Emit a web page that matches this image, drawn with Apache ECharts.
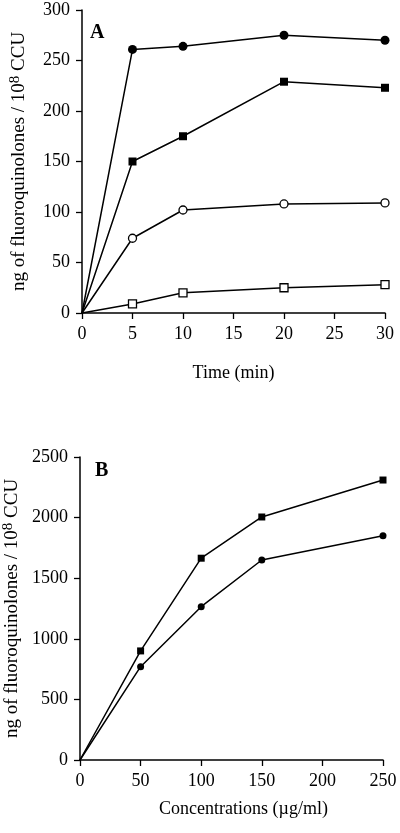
<!DOCTYPE html>
<html><head><meta charset="utf-8">
<script src="https://cdn.jsdelivr.net/npm/echarts@6/dist/echarts.min.js"></script>
<style>html,body{margin:0;padding:0;background:#fff}#c{width:400px;height:833px}</style>
</head><body><div id="c"></div>
<script>
// Panel A: time (min)
const timeA = [0, 5, 10, 20, 30];
const filledCircleA = [0, 261, 264, 275, 270];
const filledSquareA = [0, 150, 175, 229, 223];
const openCircleA = [0, 74, 102, 108, 109];
const openSquareA = [0, 9, 20, 25, 28];
// Panel B: concentration (µg/ml)
const concB = [0, 50, 100, 150, 250];
const squareB = [0, 900, 1665, 2005, 2310];
const circleB = [0, 770, 1265, 1650, 1850];

const FONT = 'Liberation Serif';
function pts(xs, ys) {
  return xs.map((x, i) => i === 0 ? { value: [x, ys[i]], symbol: 'none' } : [x, ys[i]]);
}
function series(xs, ys, idx, symbol, filled, size) {
  return {
    type: 'line', xAxisIndex: idx, yAxisIndex: idx, data: pts(xs, ys),
    symbol: symbol, symbolSize: size, showAllSymbol: true,
    lineStyle: { color: '#000', width: 1.5 },
    itemStyle: { color: filled ? '#000' : '#fff', borderColor: '#000', borderWidth: filled ? 0 : 1.3 },
    animation: false, z: 3
  };
}
const axisCommon = {
  axisLine: { show: true, onZero: false, lineStyle: { color: '#000', width: 1.5 } },
  axisTick: { show: true, inside: false, length: 6, lineStyle: { color: '#000', width: 1.3 } },
  splitLine: { show: false },
  axisLabel: { color: '#000', fontFamily: FONT, fontSize: 18, margin: 12, formatter: v => String(v) },
  nameTextStyle: { color: '#000', fontFamily: FONT, fontSize: 18 }
};
const yName = '{a|ng of fluoroquinolones / 10}{s|8}{a| CCU}';
const yRich = {
  a: { fontFamily: FONT, fontSize: 19, color: '#000' },
  s: { fontFamily: FONT, fontSize: 15, color: '#000', verticalAlign: 'bottom', padding: [0, 0, 8, 0] }
};
const chart = echarts.init(document.getElementById('c'), null, { renderer: 'canvas' });
chart.setOption({
  backgroundColor: '#fff',
  animation: false,
  grid: [
    { left: 82, right: 15, top: 10, height: 303, outerBoundsMode: 'none', containLabel: false },
    { left: 80, right: 17, top: 457, height: 303, outerBoundsMode: 'none', containLabel: false }
  ],
  xAxis: [
    Object.assign({}, axisCommon, { gridIndex: 0, type: 'value', min: 0, max: 30, interval: 5,
      name: 'Time (min)', nameLocation: 'middle', nameGap: 51 }),
    Object.assign({}, axisCommon, { gridIndex: 1, type: 'value', min: 0, max: 250, interval: 50,
      name: 'Concentrations (\u00b5g/ml)', nameLocation: 'middle', nameGap: 40,
      nameTextStyle: { color: '#000', fontFamily: FONT, fontSize: 18, padding: [0, 0, 0, 24] } })
  ],
  yAxis: [
    Object.assign({}, axisCommon, { gridIndex: 0, type: 'value', min: 0, max: 300, interval: 50,
      name: yName, nameLocation: 'middle', nameGap: 51, nameRotate: 90,
      nameTextStyle: { rich: yRich } }),
    Object.assign({}, axisCommon, { gridIndex: 1, type: 'value', min: 0, max: 2500, interval: 500,
      name: yName, nameLocation: 'middle', nameGap: 55, nameRotate: 90,
      nameTextStyle: { rich: yRich } })
  ],
  graphic: [
    { type: 'text', left: 90, top: 23, style: { text: 'A', font: 'bold 20px "Liberation Serif"', fill: '#000' } },
    { type: 'text', left: 95, top: 461, style: { text: 'B', font: 'bold 20px "Liberation Serif"', fill: '#000' } }
  ],
  series: [
    series(timeA, filledCircleA, 0, 'circle', true, 9),
    series(timeA, filledSquareA, 0, 'rect', true, 8),
    series(timeA, openCircleA, 0, 'circle', false, 8),
    series(timeA, openSquareA, 0, 'rect', false, 8),
    series(concB, squareB, 1, 'rect', true, 7),
    series(concB, circleB, 1, 'circle', true, 7)
  ]
});
</script></body></html>
